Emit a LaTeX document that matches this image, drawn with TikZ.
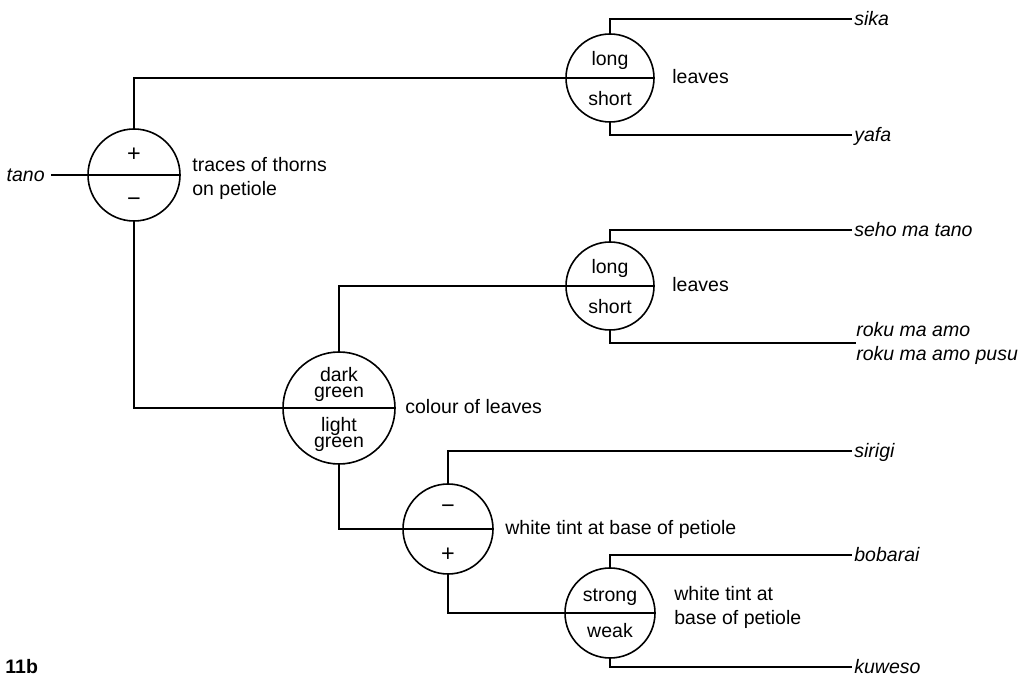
\documentclass[tikz,border=0pt]{standalone}
\usepackage{fontspec}
\setmainfont{Liberation Sans}[Scale=0.975]
\usepackage{tikz}
\usetikzlibrary{shapes,positioning}

\begin{document}
\begin{tikzpicture}[x=0.5pt, y=-0.5pt]
		\tikzstyle{Key}		= [circle, draw, line width=0.8pt, fill=white, inner sep=0pt, outer sep=0pt]
		\tikzstyle{Half}	= [anchor=base, inner sep=0pt]
		\tikzstyle{Sign}	= [anchor=base, inner sep=0pt, font=\fontsize{12}{14}\selectfont]
		\tikzstyle{Pair}	= [inner sep=0pt, align=center, font=\fontsize{10}{8}\selectfont]
		\tikzstyle{Char}	= [anchor=mid west, inner sep=0pt]
		\tikzstyle{Note}	= [anchor=west, inner sep=0pt, align=left]
		\tikzstyle{Taxon}	= [anchor=west, inner sep=1pt, font=\itshape, text height=1.5ex, text depth=0.25ex]
		\tikzstyle{Link}	= [line width=0.7pt]

		\useasboundingbox (0,0) rectangle (1034,678);

		\node (c1) at (134, 175) [Key, minimum size=46pt] {};
		\node (c2) at (610,  78) [Key, minimum size=44pt] {};
		\node (c3) at (610, 286) [Key, minimum size=44pt] {};
		\node (c4) at (339, 408) [Key, minimum size=56pt] {};
		\node (c5) at (448, 529) [Key, minimum size=45pt] {};
		\node (c6) at (610, 613) [Key, minimum size=45pt] {};

		\node (c1a) at (134, 162) [Sign] {+};
		\node (c1b) at (134, 207) [Sign] {−};
		\node (c2a) at (610,  66) [Half] {long};
		\node (c2b) at (610, 106) [Half] {short};
		\node (c3a) at (610, 274) [Half] {long};
		\node (c3b) at (610, 314) [Half] {short};
		\node (c4a) at (339, 402) [Pair, anchor=south] {dark\\green};
		\node (c4b) at (339, 417) [Pair, anchor=north] {light\\green};
		\node (c5a) at (448, 514) [Sign] {−};
		\node (c5b) at (448, 561) [Sign] {+};
		\node (c6a) at (610, 602) [Half] {strong};
		\node (c6b) at (610, 638) [Half] {weak};

		\node (k1) at (192, 178) [Note] {traces of thorns\\on petiole};
		\node (k2) at (672,  78) [Char] {leaves};
		\node (k3) at (672, 286) [Char] {leaves};
		\node (k4) at (405, 408) [Char] {colour of leaves};
		\node (k5) at (505, 529) [Char] {white tint at base of petiole};
		\node (k6) at (674, 607) [Note] {white tint at\\base of petiole};

		\node (tano)    at ( 51, 175) [Taxon, anchor=east, inner sep=3pt] {tano};
		\node (sika)    at (852,  19) [Taxon] {sika};
		\node (yafa)    at (852, 135) [Taxon] {yafa};
		\node (seho)    at (852, 230) [Taxon] {seho ma tano};
		\node (roku)    at (856, 343) [Note, font=\itshape] {roku ma amo\\roku ma amo pusu};
		\node (sirigi)  at (852, 451) [Taxon] {sirigi};
		\node (bobarai) at (852, 555) [Taxon] {bobarai};
		\node (kuweso)  at (852, 667) [Taxon] {kuweso};

		\node (fig) at (5, 673) [anchor=base west, inner sep=0pt, font=\bfseries] {11b};

		\draw [-] (c1.west) -- (c1.east) [Link];
		\draw [-] (c2.west) -- (c2.east) [Link];
		\draw [-] (c3.west) -- (c3.east) [Link];
		\draw [-] (c4.west) -- (c4.east) [Link];
		\draw [-] (c5.west) -- (c5.east) [Link];
		\draw [-] (c6.west) -- (c6.east) [Link];

		\draw [-] (tano.east) -- (c1.west) [Link];
		\draw [-] (c1.north) |- (c2.west) [Link];
		\draw [-] (c2.north) |- (sika.west) [Link];
		\draw [-] (c2.south) |- (yafa.west) [Link];
		\draw [-] (c1.south) |- (c4.west) [Link];
		\draw [-] (c4.north) |- (c3.west) [Link];
		\draw [-] (c3.north) |- (seho.west) [Link];
		\draw [-] (c3.south) |- (roku.west) [Link];
		\draw [-] (c4.south) |- (c5.west) [Link];
		\draw [-] (c5.north) |- (sirigi.west) [Link];
		\draw [-] (c5.south) |- (c6.west) [Link];
		\draw [-] (c6.north) |- (bobarai.west) [Link];
		\draw [-] (c6.south) |- (kuweso.west) [Link];
	\end{tikzpicture}
\end{document}
